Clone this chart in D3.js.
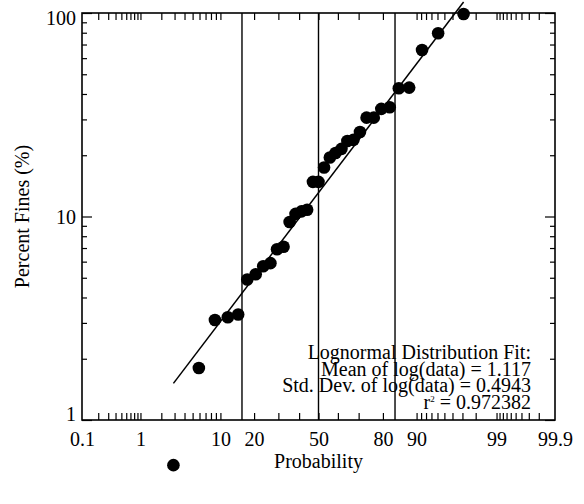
<!DOCTYPE html>
<html>
<head>
<meta charset="utf-8">
<script src="https://cdn.jsdelivr.net/npm/d3@7"></script>
<style>
  body { margin: 0; background: #fff; }
  text { font-family: "Liberation Serif", "Times New Roman", serif; fill: #000; }
</style>
</head>
<body>
<svg width="584" height="504"></svg>
<script>
// plotting position (%) and percent fines, sorted
var probability = [2.9, 5.9, 8.8, 11.8, 14.7, 17.6, 20.6, 23.5, 26.5, 29.4, 32.4, 35.3, 38.2, 41.2, 44.1, 47.1, 50.0,
    52.9, 55.9, 58.8, 61.8, 64.7, 67.6, 70.6, 73.5, 76.5, 79.4, 82.4, 85.3, 88.2, 91.2, 94.1, 97.1];
var percentFines = [0.6, 1.8, 3.1, 3.2, 3.3, 4.9, 5.2, 5.7, 5.9, 6.9, 7.1, 9.4, 10.3, 10.6, 10.8, 14.8, 14.8,
    17.4, 19.5, 20.5, 21.5, 23.5, 23.8, 26.0, 30.6, 30.6, 33.8, 34.4, 42.7, 43.0, 65.8, 79.5, 98.9];

// fit result
var fitMean = 1.117, fitStd = 0.4943;
var fitText = ["Lognormal Distribution Fit:", "Mean of log(data) = 1.117", "Std. Dev.     of log(data) = 0.4943"];
var rSquared = "0.972382";

// axis ticks
var xTicks = [0.2, 0.3, 0.4, 0.5, 0.6, 0.7, 0.8, 0.9, 1, 2, 3, 4, 5, 6, 7, 8, 9, 10, 20, 30, 40, 50, 60, 70, 80,
    90, 91, 92, 93, 94, 95, 96, 97, 98, 99, 99.1, 99.2, 99.3, 99.4, 99.5, 99.6, 99.7, 99.8];
var xLabels = [0.1, 1, 10, 20, 50, 80, 90, 99, 99.9];
var yMajor = [1, 10, 100];
var yMinor = [2, 3, 4, 5, 6, 7, 8, 9, 20, 30, 40, 50, 60, 70, 80, 90];
var refLines = [15.87, 50, 84.13];

// inverse normal cdf (Acklam)
function probit(p) {
    var a = [-3.969683028665376e+01, 2.209460984245205e+02, -2.759285104469687e+02, 1.383577518672690e+02, -3.066479806614716e+01, 2.506628277459239e+00];
    var b = [-5.447609879822406e+01, 1.615858368580409e+02, -1.556989798598866e+02, 6.680131188771972e+01, -1.328068155288572e+01];
    var c = [-7.784894002430293e-03, -3.223964580411365e-01, -2.400758277161838e+00, -2.549732539343734e+00, 4.374664141464968e+00, 2.938163982698783e+00];
    var d = [7.784695709041462e-03, 3.224671290700398e-01, 2.445134137142996e+00, 3.754408661907416e+00];
    var q, r;
    if (p < 0.02425 || p > 1 - 0.02425) {
        q = Math.sqrt(-2 * Math.log(p < 0.5 ? p : 1 - p));
        var v = (((((c[0]*q+c[1])*q+c[2])*q+c[3])*q+c[4])*q+c[5]) / ((((d[0]*q+d[1])*q+d[2])*q+d[3])*q+1);
        return p < 0.5 ? v : -v;
    }
    q = p - 0.5; r = q * q;
    return (((((a[0]*r+a[1])*r+a[2])*r+a[3])*r+a[4])*r+a[5])*q / (((((b[0]*r+b[1])*r+b[2])*r+b[3])*r+b[4])*r+1);
}
function z(pct) { return probit(pct / 100); }

var svg = d3.select("svg");
// plot box (window.top is reserved, so no "top")
var x0 = 82, x1 = 555, y0 = 13, y1 = 420;

var x = d3.scaleLinear().domain([z(0.1), z(99.9)]).range([x0, x1]);
var y = d3.scaleLog().domain([1, 100]).range([y1, y0]);

// tick marks, all pointing inward
function marks(axis, tr, vals, size) {
    var g = svg.append("g").attr("transform", tr)
        .call(axis.tickValues(vals).tickSize(size).tickSizeOuter(0).tickFormat(""));
    g.select(".domain").remove();
    g.selectAll("line").attr("stroke", "#000").attr("stroke-width", 1.2);
    return g;
}
var xt = xTicks.map(z);
marks(d3.axisBottom(x), "translate(0," + y1 + ")", xt, -7);
marks(d3.axisTop(x), "translate(0," + y0 + ")", xt, -7);
marks(d3.axisLeft(y), "translate(" + x0 + ",0)", yMajor, -10);
marks(d3.axisLeft(y), "translate(" + x0 + ",0)", yMinor, -5);
marks(d3.axisRight(y), "translate(" + x1 + ",0)", yMajor, -10);
marks(d3.axisRight(y), "translate(" + x1 + ",0)", yMinor, -5);

// x labels
var xl = svg.append("g").attr("transform", "translate(0," + y1 + ")")
    .call(d3.axisBottom(x).tickValues(xLabels.map(z)).tickSize(0)
        .tickFormat(function(d, i) { return xLabels[i]; }));
xl.select(".domain").remove();
xl.selectAll("text").attr("y", 26).attr("dy", null)
    .style("font-size", "20px").style("font-family", "Liberation Serif");

// y labels, kept inside the axis range
var yl = svg.append("g").attr("transform", "translate(" + x0 + ",0)")
    .call(d3.axisLeft(y).tickValues(yMajor).tickSize(0).tickFormat(d3.format("d")));
yl.select(".domain").remove();
yl.selectAll("text").attr("x", -6).attr("dy", null)
    .attr("y", function(d) { return Math.min(Math.max(7, y0 + 11 - y(d)), y1 - y(d)); })
    .style("font-size", "20px").style("font-family", "Liberation Serif");

// frame
svg.append("rect").attr("x", x0).attr("y", y0)
    .attr("width", x1 - x0).attr("height", y1 - y0)
    .attr("fill", "none").attr("stroke", "#000").attr("stroke-width", 1.6);

// 16 / 50 / 84 lines
svg.append("g").selectAll("line").data(refLines).enter().append("line")
    .attr("x1", function(d) { return x(z(d)); })
    .attr("x2", function(d) { return x(z(d)); })
    .attr("y1", y0).attr("y2", y1)
    .attr("stroke", "#000").attr("stroke-width", 1.4);

// fit line
var ends = [probability[0], probability[probability.length - 1]];
svg.append("path")
    .datum(ends)
    .attr("fill", "none").attr("stroke", "#000").attr("stroke-width", 1.5)
    .attr("d", d3.line()
        .x(function(d) { return x(z(d)); })
        .y(function(d) { return y(Math.pow(10, fitMean + fitStd * z(d))); }));

// points (not clipped)
svg.append("g").selectAll("circle").data(percentFines).enter().append("circle")
    .attr("cx", function(d, i) { return x(z(probability[i])); })
    .attr("cy", function(d) { return y(d); })
    .attr("r", 6.3)
    .attr("fill", "#000");

// annotation
var ann = svg.append("g").attr("text-anchor", "end").style("font-size", "20px")
    .style("white-space", "pre");
fitText.forEach(function(t, i) {
    ann.append("text").attr("x", 531).attr("y", 359 + i * 16.6).text(t);
});
var rt = ann.append("text").attr("x", 531).attr("y", 359 + 3 * 16.6);
rt.append("tspan").text("r");
rt.append("tspan").attr("dy", -7).style("font-size", "9px").text("2");
rt.append("tspan").attr("dy", 7).text(" = " + rSquared);

// axis titles
svg.append("text").attr("x", (x0 + x1) / 2).attr("y", 468)
    .attr("text-anchor", "middle").style("font-size", "20px").text("Probability");
svg.append("text").attr("transform", "translate(29," + (y0 + y1) / 2 + ") rotate(-90)")
    .attr("text-anchor", "middle").style("font-size", "20px").text("Percent Fines (%)");
</script>
</body>
</html>
